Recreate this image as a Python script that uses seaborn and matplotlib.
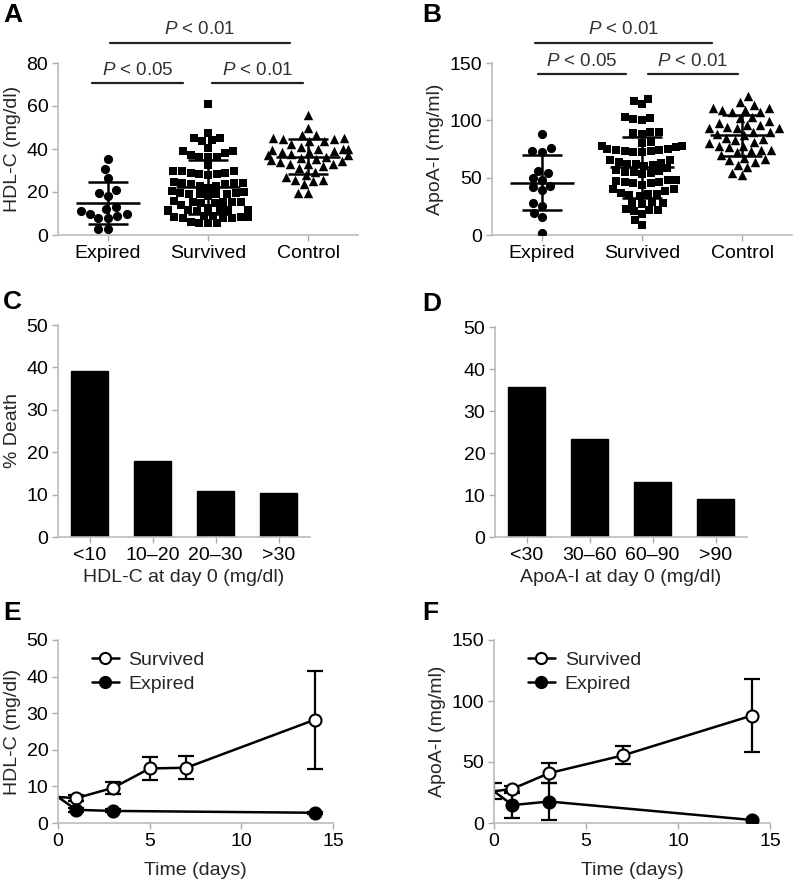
import numpy as np
import pandas as pd
import matplotlib
matplotlib.use("Agg")
import matplotlib.pyplot as plt
from matplotlib.lines import Line2D
import seaborn as sns

# ---- data ----
groups = ["Expired", "Survived", "Control"]

hdl_expired = [35.2, 30.8, 26.7, 19.5, 20.8, 18.3, 13.2, 11.0, 9.9, 12.0,
               9.9, 7.8, 7.8, 8.7, 2.7, 2.7]
hdl_survived = [61, 47.5, 45, 44, 43.5, 45,
                40.5, 39, 38, 36.5, 36.5, 36.5, 37, 39, 32.5,
                29, 28.5, 29, 30, 30, 30, 28.5, 28,
                24, 23.5, 24, 23, 24, 24.5, 23.5, 23, 22,
                19.5, 19, 19, 19, 19, 19.5, 20, 20.5, 18,
                15.5, 15, 15, 15.5, 15.5, 15.5, 16, 14,
                11.5, 11, 11, 11.5, 11.5, 11.5, 11.5, 12.5,
                9, 8.5, 8, 8, 8, 8.5, 8.5, 9,
                5.5, 5.5, 5.5, 6]
hdl_control = [56, 50, 46.5, 45, 44.5, 43.5, 42.5, 43.5, 44.5, 45, 46.5,
               40, 40, 39, 37.5, 36.5, 37, 38.5, 38.5, 39.5, 40,
               35, 33, 32, 33, 31, 33, 34.5, 36, 35.5, 34, 37, 41,
               28, 25.5, 23.5, 25, 25.5, 27, 29.5, 19.5, 19.5]

apoa_expired = [88, 73.5, 72.5, 75.5, 54.5, 56, 48, 49.5, 41.5, 39, 43,
                28, 25, 19.5, 15.5, 2]
apoa_survived = [119, 117, 114, 102, 100, 101, 103, 90, 89, 90, 88,
                 80, 78, 77, 78, 81, 75, 74, 72, 73, 74, 75, 73, 72,
                 65, 63, 62, 61, 60, 62, 64, 65, 58, 57, 56, 55, 54, 55, 53,
                 48, 46, 45, 44, 45, 46, 47, 48, 40, 38, 36, 35, 34, 36, 37, 40,
                 28, 27, 28, 29, 22, 21, 22, 23, 18, 13, 9]
apoa_control = [121, 113, 116, 111, 109, 107, 107, 109, 111, 102, 98, 96,
                96, 99, 103, 93, 93, 90, 88, 90, 93, 94, 83, 81, 78, 77, 78,
                80, 84, 74, 73, 72, 74, 70, 67, 65, 64, 66, 59, 52, 54, 61,
                85, 87]

hdl_bins = ["<10", "10\u201320", "20\u201330", ">30"]
hdl_death = [39.2, 18.0, 10.8, 10.3]
apoa_bins = ["<30", "30\u201360", "60\u201390", ">90"]
apoa_death = [35.8, 23.4, 13.0, 9.1]

e_surv_days = [0, 1, 3, 5, 7, 14]
e_surv_mean = [7.1, 6.8, 9.6, 14.9, 15.1, 28.2]
e_surv_err = [0, 0.8, 1.6, 3.2, 3.2, 13.4]
e_exp_days = [0, 1, 3, 14]
e_exp_mean = [7.1, 3.6, 3.3, 2.8]
e_exp_err = [0, 0.5, 0.4, 0.3]

f_surv_days = [0, 1, 3, 7, 14]
f_surv_mean = [26, 28, 40.9, 55.4, 88]
f_surv_err = [6.6, 2.5, 8.1, 7.4, 30.2]
f_exp_days = [0, 1, 3, 14]
f_exp_mean = [26, 14.7, 17.6, 2.5]
f_exp_err = [0, 10.2, 15.1, 0]

# ---- style ----
sns.set_theme(style="ticks")
plt.rcParams["font.family"] = ["Liberation Sans", "DejaVu Sans"]
plt.rcParams["mathtext.fontset"] = "custom"
plt.rcParams["mathtext.it"] = "Liberation Sans:italic"
plt.rcParams["mathtext.rm"] = "Liberation Sans"
FS = 14
SPINE = "#bbbbbb"

fig = plt.figure(figsize=(7.95, 8.86), dpi=100)
W, H = 795, 886


def add_ax(x0, x1, ytop, ybot):
    return fig.add_axes([x0 / W, 1 - ybot / H, (x1 - x0) / W, (ybot - ytop) / H])


def style(ax):
    sns.despine(ax=ax)
    for s in ("left", "bottom"):
        ax.spines[s].set_color(SPINE)
        ax.spines[s].set_linewidth(1.2)
    ax.tick_params(color="#aaaaaa", length=4, width=1, labelsize=FS,
                   labelcolor="black", pad=3)


def scatter_panel(ax, data, ylim, yticks, ylabel):
    markers = ["o", "s", "^"]
    sizes = [6.6, 6.0, 6.8]
    df = pd.DataFrame({"group": np.repeat(groups, [len(d) for d in data]),
                       "value": np.concatenate(data)})
    for g, m, s in zip(groups, markers, sizes):
        sns.swarmplot(data=df[df.group == g], x="group", y="value",
                      order=groups, marker=m, size=s, color="black",
                      linewidth=0, ax=ax, warn_thresh=1)
    for i, vals in enumerate(data):
        vals = np.asarray(vals)
        m, sd = vals.mean(), vals.std(ddof=1)
        ax.hlines(m, i - 0.32, i + 0.32, color="black", lw=1.8, zorder=5)
        ax.vlines(i, m - sd, m + sd, color="black", lw=1.8, zorder=5)
        ax.hlines([m - sd, m + sd], i - 0.2, i + 0.2, color="black",
                  lw=1.8, zorder=5)
    ax.set_xlim(-0.5, 2.5)
    ax.set_ylim(*ylim)
    ax.set_yticks(yticks)
    ax.set_xlabel("")
    ax.set_ylabel(ylabel, fontsize=FS)
    style(ax)


def sig(ax, x0, x1, y, ty, label):
    ax.plot([x0, x1], [y, y], color="#222222", lw=1.6, clip_on=False)
    ax.text((x0 + x1) / 2, ty, label, ha="center", va="center",
            fontsize=13.5, color="#333333", clip_on=False)


# ---- A ----
axA = add_ax(58, 358, 63, 235)
scatter_panel(axA, [hdl_expired, hdl_survived, hdl_control], (0, 80),
              [0, 20, 40, 60, 80], "HDL-C (mg/dl)")
sig(axA, 0.02, 1.82, 89.4, 95.5, "$P$ < 0.01")
sig(axA, -0.16, 0.75, 70.8, 76.5, "$P$ < 0.05")
sig(axA, 1.04, 1.95, 70.8, 76.5, "$P$ < 0.01")

# ---- B ----
axB = add_ax(492, 792, 63, 235)
scatter_panel(axB, [apoa_expired, apoa_survived, apoa_control], (0, 150),
              [0, 50, 100, 150], "ApoA-I (mg/ml)")
sig(axB, -0.07, 1.70, 167.7, 179, "$P$ < 0.01")
sig(axB, -0.04, 0.84, 140.4, 151, "$P$ < 0.05")
sig(axB, 1.06, 1.96, 140.4, 151, "$P$ < 0.01")


# ---- C, D ----
def bar_panel(ax, cats, vals, xlabel, ylabel):
    sns.barplot(x=cats, y=vals, color="black", width=0.6, ax=ax,
                saturation=1, edgecolor="black")
    ax.set_xlim(-0.5, 3.5)
    ax.set_ylim(0, 50)
    ax.set_yticks([0, 10, 20, 30, 40, 50])
    ax.set_xlabel(xlabel, fontsize=FS)
    ax.set_ylabel(ylabel, fontsize=FS)
    style(ax)


axC = add_ax(58, 310, 325, 537)
bar_panel(axC, hdl_bins, hdl_death, "HDL-C at day 0 (mg/dl)", "% Death")
axD = add_ax(495, 747, 327, 537)
bar_panel(axD, apoa_bins, apoa_death, "ApoA-I at day 0 (mg/dl)", "")


# ---- E, F ----
def time_panel(ax, surv, exp, ylim, yticks, ylabel):
    for (days, mean, err), face, name in ((surv, "white", "Survived"),
                                          (exp, "black", "Expired")):
        d = pd.DataFrame({"day": days, "value": mean, "err": err})
        sns.lineplot(data=d, x="day", y="value", color="black", lw=1.8,
                     estimator=None, sort=False, ax=ax, zorder=2)
        e = d[d.err > 0]
        ax.errorbar(e.day, e.value, yerr=e.err, fmt="none", ecolor="black",
                    elinewidth=1.6, capsize=6, capthick=1.6, zorder=2)
        m = d[d.day > 0]
        sns.scatterplot(data=m, x="day", y="value", marker="o", s=75,
                        facecolor=face, edgecolor="black", linewidth=1.5,
                        ax=ax, zorder=3)
    ax.set_xlim(0, 15)
    ax.set_xticks([0, 5, 10, 15])
    ax.set_ylim(*ylim)
    ax.set_yticks(yticks)
    ax.set_xlabel("Time (days)", fontsize=FS, labelpad=9)
    ax.set_ylabel(ylabel, fontsize=FS)
    handles = [Line2D([], [], color="black", lw=1.8, marker="o", ms=8,
                      mfc="white", mec="black", mew=1.5),
               Line2D([], [], color="black", lw=1.8, marker="o", ms=8,
                      mfc="black", mec="black", mew=1.5)]
    ax.legend(handles, ["Survived", "Expired"], loc="upper left",
              bbox_to_anchor=(0.08, 1.0), frameon=False, fontsize=FS,
              handlelength=1.4, handletextpad=0.5, labelspacing=0.3,
              borderaxespad=0.2)
    style(ax)


axE = add_ax(58, 333, 640, 823)
time_panel(axE, (e_surv_days, e_surv_mean, e_surv_err),
           (e_exp_days, e_exp_mean, e_exp_err), (0, 50),
           [0, 10, 20, 30, 40, 50], "HDL-C (mg/dl)")
axF = add_ax(494, 770, 640, 823)
time_panel(axF, (f_surv_days, f_surv_mean, f_surv_err),
           (f_exp_days, f_exp_mean, f_exp_err), (0, 150),
           [0, 50, 100, 150], "ApoA-I (mg/ml)")

# ---- panel letters ----
for lbl, x, y in (("A", 3, 3), ("B", 422, 3), ("C", 3, 290), ("D", 422, 292),
                  ("E", 3, 601), ("F", 422, 601)):
    fig.text(x / W, 1 - y / H, lbl, fontsize=19, fontweight="bold",
             va="top", ha="left", color="black")

fig.savefig("out.png", dpi=100)
